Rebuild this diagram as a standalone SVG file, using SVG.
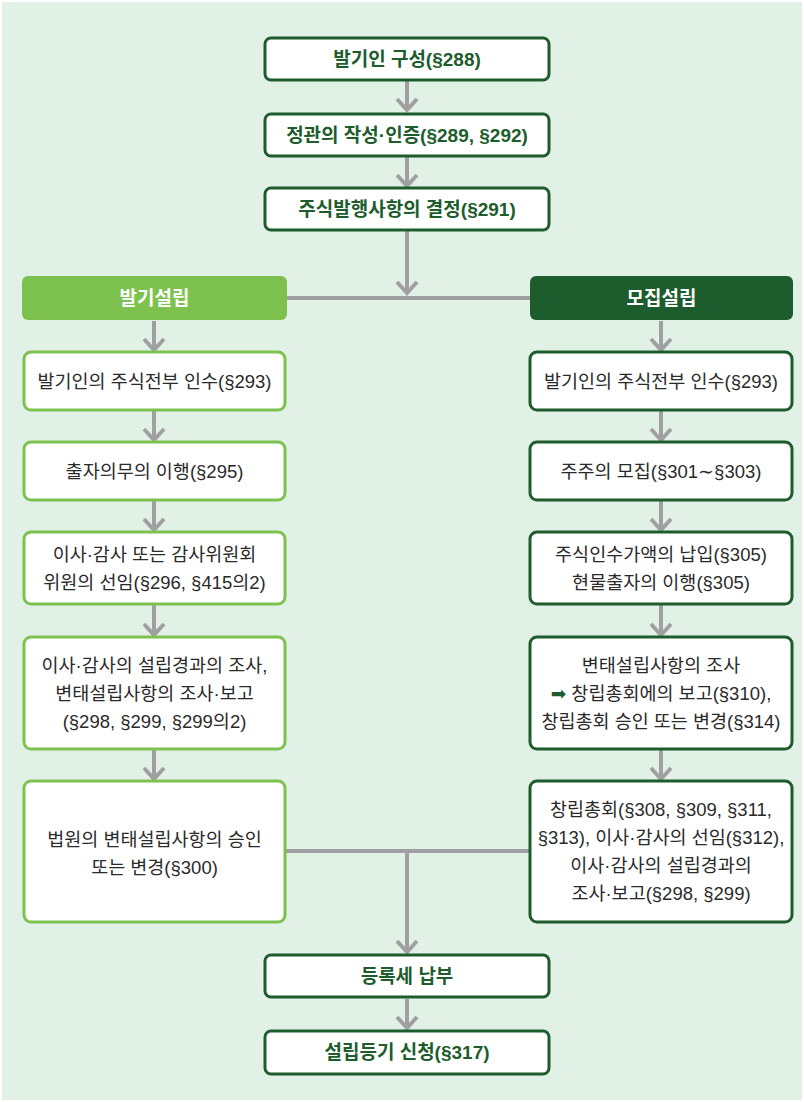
<svg xmlns="http://www.w3.org/2000/svg" width="804" height="1102" viewBox="0 0 804 1102">
<style>
.bg{fill:#E2F1E6}
.top{fill:#fff;stroke:#1D5C2C;stroke-width:3}
.lbox{fill:#fff;stroke:#7DC24F;stroke-width:3}
.rbox{fill:#fff;stroke:#1D5C2C;stroke-width:3}
.tt{font-family:"Liberation Sans","Noto Sans CJK KR",sans-serif;font-size:19px;font-weight:700;fill:#1D5C2C;text-anchor:middle;dominant-baseline:central}
.ht{font-family:"Liberation Sans","Noto Sans CJK KR",sans-serif;font-size:19px;font-weight:700;fill:#fff;text-anchor:middle;dominant-baseline:central}
.ct{font-family:"Liberation Sans","Noto Sans CJK KR",sans-serif;font-size:18.5px;font-weight:400;fill:#2A2A2A;text-anchor:middle;dominant-baseline:central}
.ln{fill:none;stroke:#A0A0A2;stroke-width:4}
.ar{fill:none;stroke:#A0A0A2;stroke-width:4;marker-end:url(#chev)}
</style>
<defs>
<marker id="chev" markerUnits="userSpaceOnUse" markerWidth="30" markerHeight="30" viewBox="-15 -15 30 30" refX="0" refY="0" orient="auto" overflow="visible">
<path d="M-11,-10 L0,0 L-11,10" fill="none" stroke="#A0A0A2" stroke-width="4"/>
</marker>
</defs>
<rect x="0" y="0" width="804" height="1102" fill="#fff"/>
<rect class="bg" x="2" y="2" width="800" height="1098"/>

<g id="connectors">
<path class="ar" d="M407,81 V110"/>
<path class="ar" d="M407,157 V186"/>
<path class="ar" d="M407,231 V293"/>
<path class="ln" d="M287,298 H530"/>
<path class="ar" d="M154,321 V350"/>
<path class="ar" d="M154,411 V440"/>
<path class="ar" d="M154,501 V530"/>
<path class="ar" d="M154,605 V635"/>
<path class="ar" d="M154,750 V779"/>
<path class="ar" d="M661,321 V350"/>
<path class="ar" d="M661,411 V440"/>
<path class="ar" d="M661,501 V530"/>
<path class="ar" d="M661,605 V635"/>
<path class="ar" d="M661,750 V779"/>
<path class="ln" d="M286,851 H529"/>
<path class="ar" d="M407,851 V952"/>
<path class="ar" d="M407,999 V1028"/>
</g>

<g id="n1"><rect class="top" x="265" y="38" width="284" height="42" rx="6"/><text class="tt" x="407" y="59">발기인 구성(§288)</text></g>
<g id="n2"><rect class="top" x="265" y="114" width="284" height="42" rx="6"/><text class="tt" x="407" y="135">정관의 작성·인증(§289, §292)</text></g>
<g id="n3"><rect class="top" x="265" y="188" width="284" height="42" rx="6"/><text class="tt" x="407" y="209">주식발행사항의 결정(§291)</text></g>

<g id="hL"><rect x="22" y="276" width="265" height="44" rx="6" fill="#7DC24F"/><text class="ht" x="154.5" y="298">발기설립</text></g>
<g id="hR"><rect x="530" y="276" width="263" height="44" rx="6" fill="#1D5C2C"/><text class="ht" x="661.5" y="298">모집설립</text></g>

<g id="L1"><rect class="lbox" x="24" y="352" width="261" height="58" rx="7"/><text class="ct" x="154.5" y="381">발기인의 주식전부 인수(§293)</text></g>
<g id="L2"><rect class="lbox" x="24" y="442" width="261" height="58" rx="7"/><text class="ct" x="154.5" y="471">출자의무의 이행(§295)</text></g>
<g id="L3"><rect class="lbox" x="24" y="532" width="261" height="72" rx="7"/><text class="ct" x="154.5" y="554">이사·감사 또는 감사위원회</text><text class="ct" x="154.5" y="582">위원의 선임(§296, §415의2)</text></g>
<g id="L4"><rect class="lbox" x="24" y="637" width="261" height="112" rx="7"/><text class="ct" x="154.5" y="665">이사·감사의 설립경과의 조사,</text><text class="ct" x="154.5" y="693">변태설립사항의 조사·보고</text><text class="ct" x="154.5" y="721">(§298, §299, §299의2)</text></g>
<g id="L5"><rect class="lbox" x="24" y="781" width="261" height="141" rx="7"/><text class="ct" x="154.5" y="839">법원의 변태설립사항의 승인</text><text class="ct" x="154.5" y="867">또는 변경(§300)</text></g>

<g id="R1"><rect class="rbox" x="530" y="352" width="262" height="58" rx="7"/><text class="ct" x="661" y="381">발기인의 주식전부 인수(§293)</text></g>
<g id="R2"><rect class="rbox" x="530" y="442" width="262" height="58" rx="7"/><text class="ct" x="661" y="471">주주의 모집(§301∼§303)</text></g>
<g id="R3"><rect class="rbox" x="530" y="532" width="262" height="72" rx="7"/><text class="ct" x="661" y="554">주식인수가액의 납입(§305)</text><text class="ct" x="661" y="582">현물출자의 이행(§305)</text></g>
<g id="R4"><rect class="rbox" x="530" y="637" width="262" height="112" rx="7"/><text class="ct" x="661" y="665">변태설립사항의 조사</text><text class="ct" x="661" y="693"><tspan fill="#1D5C2C" font-family="DejaVu Sans, sans-serif">➡</tspan> 창립총회에의 보고(§310),</text><text class="ct" x="661" y="721">창립총회 승인 또는 변경(§314)</text></g>
<g id="R5"><rect class="rbox" x="530" y="781" width="262" height="141" rx="7"/><text class="ct" x="661" y="809.5">창립총회(§308, §309, §311,</text><text class="ct" x="661" y="837.5">§313), 이사·감사의 선임(§312),</text><text class="ct" x="661" y="865.5">이사·감사의 설립경과의</text><text class="ct" x="661" y="893.5">조사·보고(§298, §299)</text></g>

<g id="n4"><rect class="top" x="265" y="955" width="284" height="42" rx="6"/><text class="tt" x="407" y="976">등록세 납부</text></g>
<g id="n5"><rect class="top" x="265" y="1031" width="284" height="43" rx="6"/><text class="tt" x="407" y="1052.5">설립등기 신청(§317)</text></g>
</svg>
